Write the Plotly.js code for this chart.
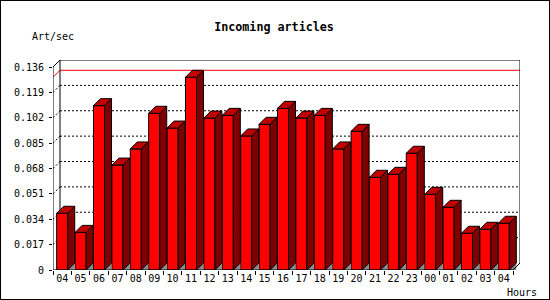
<!DOCTYPE html>
<html>
<head>
<meta charset="utf-8">
<script src="https://cdn.plot.ly/plotly-3.0.1.min.js"></script>
<style>
html,body{margin:0;padding:0;background:#fff;}
#wrap{position:relative;width:550px;height:300px;}
#chart{width:550px;height:300px;}
#frame{position:absolute;left:0;top:0;width:548px;height:298px;border:1px solid #000;pointer-events:none;}
</style>
</head>
<body>
<div id="wrap"><div id="chart"></div><div id="frame"></div></div>
<script>
// ---- data ----
const hours = ["04","05","06","07","08","09","10","11","12","13","14","15","16","17","18","19","20","21","22","23","00","01","02","03","04"];
const artPerSec = [0.0380,0.0252,0.1101,0.0703,0.0811,0.1050,0.0951,0.1291,0.1018,0.1036,0.0898,0.0976,0.1083,0.1018,0.1036,0.0811,0.0929,0.0621,0.0641,0.0782,0.0507,0.0420,0.0246,0.0273,0.0313];
const yTickVals = [0,0.017,0.034,0.051,0.068,0.085,0.102,0.119,0.136];
const yTickText = ["0","0.017","0.034","0.051","0.068","0.085","0.102","0.119","0.136"];

// ---- geometry (pixel → data) ----
const PX_X = 460/25;          // px per category
const PX_Y = 203/0.136;       // px per unit
const DX = 7/PX_X, DY = 7/PX_Y;
const HW = 0.3;               // half bar width
const N = hours.length;
const xr = [-0.5, N-0.5+DX];
const yr = [0, 0.136 + DY];

const idx = hours.map((_, i) => i);
const maxVal = Math.max(...artPerSec);

// side, top and floor-shadow polygons derived from data
const sideX=[], sideY=[], topX=[], topY=[], shX=[], shY=[];
artPerSec.forEach((v, i) => {
  const r = i + HW, l = i - HW;
  sideX.push(r, r, r+DX, r+DX, r, null);
  sideY.push(0, v, v+DY, DY, 0, null);
  topX.push(l, r, r+DX, l+DX, l, null);
  topY.push(v, v, v+DY, v+DY, v, null);
  shX.push(r, r+DX, r+DX, r, null);
  shY.push(0, DY, 0, 0, null);
});

const traces = [
  {type:'bar', x: idx, y: artPerSec, width: 0.6,
   marker:{color:'#ff0000', line:{color:'#000', width:1}}, hoverinfo:'skip'},
  {type:'scatter', mode:'lines', x: shX, y: shY, fill:'toself', fillcolor:'#8c8c8c',
   line:{color:'#8c8c8c', width:0}, hoverinfo:'skip'},
  {type:'scatter', mode:'lines', x: sideX, y: sideY, fill:'toself', fillcolor:'#800000',
   line:{color:'#000', width:1}, hoverinfo:'skip'},
  {type:'scatter', mode:'lines', x: topX, y: topY, fill:'toself', fillcolor:'#c00000',
   line:{color:'#000', width:1}, hoverinfo:'skip'}
];

const shapes = [];
// dotted back-plane grid lines + diagonal stubs
yTickVals.slice(1, -1).forEach(v => {
  shapes.push({type:'line', layer:'below', xref:'x', yref:'y', x0:-0.5+DX, x1:xr[1], y0:v+DY, y1:v+DY,
               line:{color:'#000', width:1, dash:'2px,2px'}});
  shapes.push({type:'line', layer:'below', xref:'x', yref:'y', x0:-0.5, x1:-0.5+DX, y0:v, y1:v+DY,
               line:{color:'#000', width:1, dash:'2px,2px'}});
});
// max line (red)
shapes.push({type:'line', layer:'below', xref:'x', yref:'y', x0:-0.5+DX, x1:xr[1], y0:maxVal+DY, y1:maxVal+DY, line:{color:'#ff0000', width:1}});
shapes.push({type:'line', layer:'below', xref:'x', yref:'y', x0:-0.5, x1:-0.5+DX, y0:maxVal, y1:maxVal+DY, line:{color:'#ff0000', width:1}});
// frame
const yTop = yTickVals[yTickVals.length-1];
const frameLines = [
  [-0.5, 0, -0.5, yTop],               // front left axis
  [-0.5, yTop, -0.5+DX, yTop+DY],      // top-left diagonal
  [-0.5+DX, DY, -0.5+DX, yTop+DY],     // back left
  [-0.5+DX, yTop+DY, xr[1], yTop+DY],  // back top
  [xr[1], yTop+DY, xr[1], DY],         // back right
  [N-0.5, 0, xr[1], DY],               // bottom-right diagonal
  [-0.5, 0, N-0.5, 0]                  // front bottom axis
];
frameLines.forEach((f, k) => shapes.push({type:'line', layer: k===2 ? 'below' : 'above', xref:'x', yref:'y',
  x0:f[0], y0:f[1], x1:f[2], y1:f[3], line:{color:'#000', width:1}}));

const boundaries = hours.map((_, i) => i - 0.5).concat([N - 0.5]);
const monoFont = {family:'DejaVu Sans Mono, Liberation Mono, monospace', size:10, color:'#000'};

const layout = {
  width:550, height:300,
  margin:{l:53, r:30, t:60, b:30, pad:0},
  paper_bgcolor:'#fff', plot_bgcolor:'rgba(0,0,0,0)',
  showlegend:false, hovermode:false,
  title:{text:'Incoming articles', x:274/550, xanchor:'center', y:1-27/300, yanchor:'middle',
         font:{family:'DejaVu Sans Mono, Liberation Mono, monospace', size:11.7, weight:'bold', color:'#000'}},
  xaxis:{range:xr, tickmode:'array', tickvals:idx, ticktext:hours,
         ticks:'', ticklabelstandoff:1,
         minor:{tickmode:'array', tickvals:boundaries, ticks:'outside', ticklen:4, tickcolor:'#000', tickwidth:1, showgrid:false},
         showgrid:false, zeroline:false, showline:false, tickfont:monoFont, fixedrange:true},
  yaxis:{range:yr, tickmode:'array', tickvals:yTickVals, ticktext:yTickText,
         ticks:'outside', ticklen:3, tickcolor:'#000', tickwidth:1, ticklabelstandoff:3,
         showgrid:false, zeroline:false, showline:false, tickfont:monoFont, fixedrange:true},
  shapes: shapes,
  annotations:[
    {text:'Art/sec', xref:'paper', yref:'paper', x:(30-53)/467, y:1+(60-37)/210, xanchor:'left', yanchor:'middle',
     showarrow:false, font:monoFont},
    {text:'Hours', xref:'paper', yref:'paper', x:(505-53)/467, y:(270-292)/210, xanchor:'left', yanchor:'middle',
     showarrow:false, font:monoFont}
  ]
};

Plotly.newPlot('chart', traces, layout, {displayModeBar:false, staticPlot:true});
</script>
</body>
</html>
